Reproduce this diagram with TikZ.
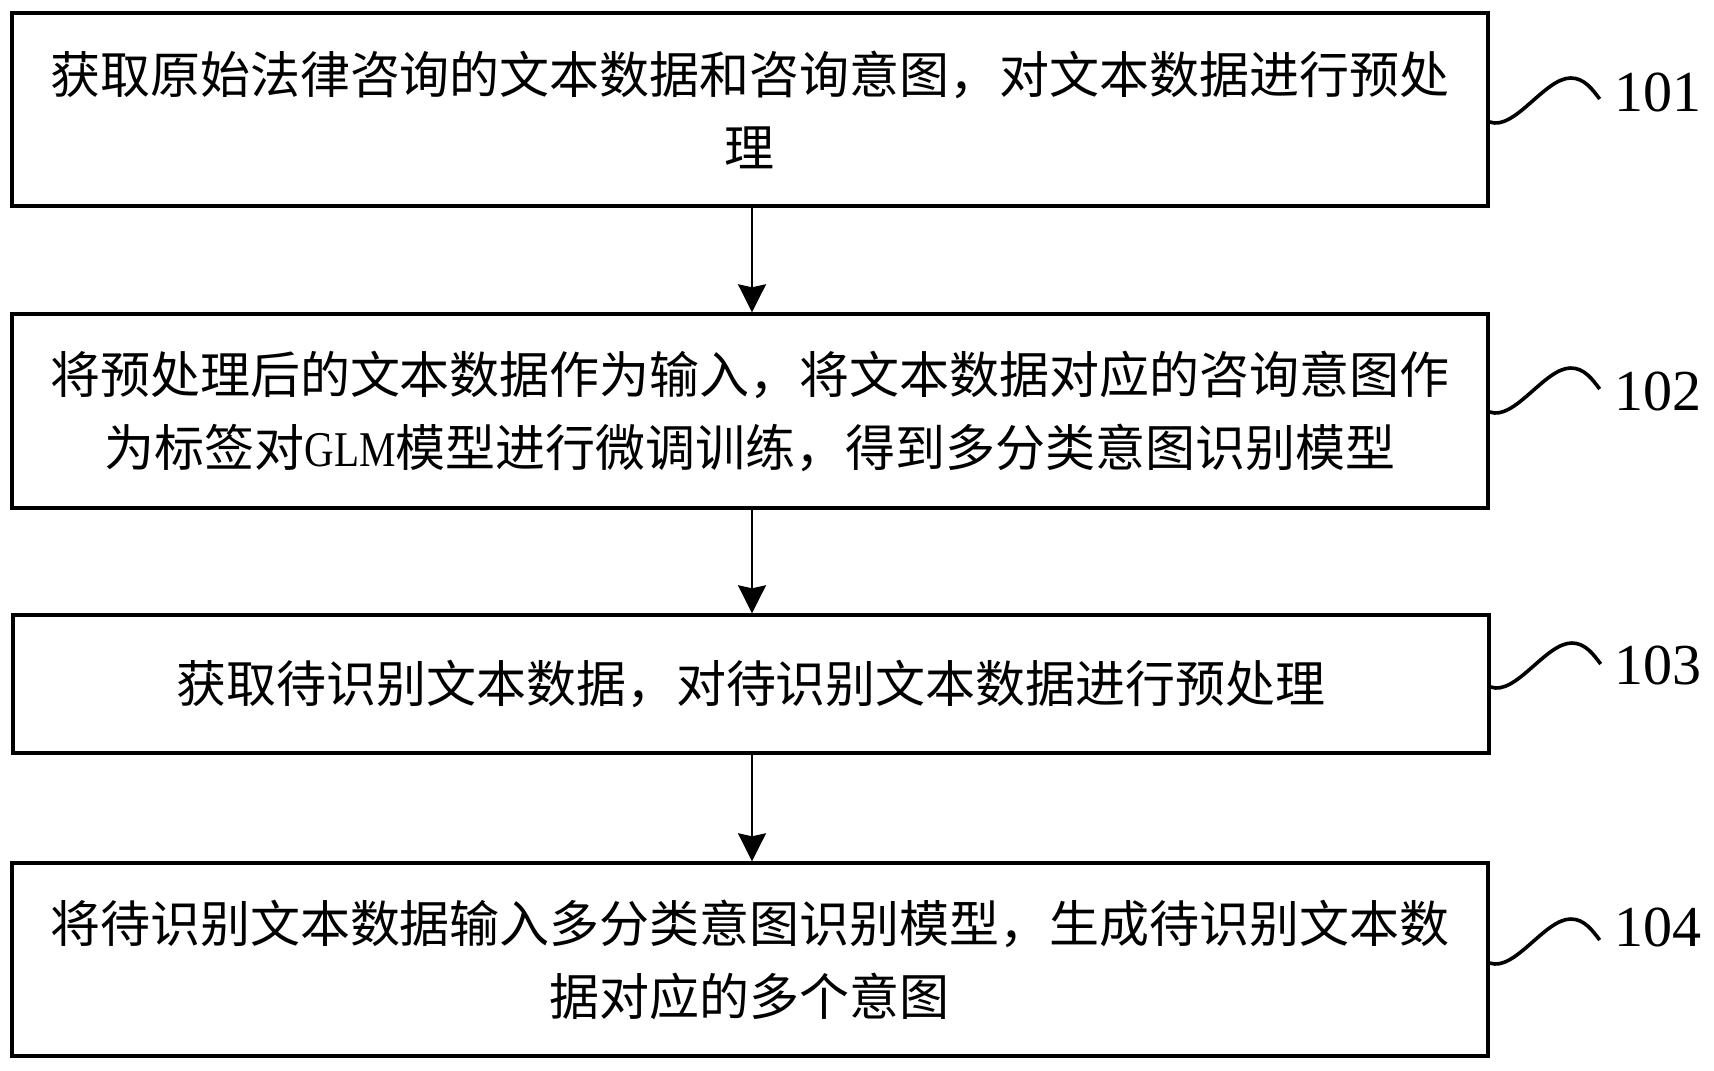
\documentclass[tikz,border=0pt]{standalone}
\usepackage{fontspec}
\setmainfont{Liberation Serif}
\newfontfamily\cjk{Noto Sans CJK SC}
\newfontfamily\latcond{Liberation Serif}[FakeStretch=0.82]
\usetikzlibrary{arrows.meta,calc}
\tikzset{
  stepbox/.style={draw=black, line width=1.7pt, rectangle, inner sep=0pt,
    minimum width=738pt, align=center,
    font=\cjk\fontsize{25pt}{36.5pt}\selectfont},
  flow/.style={draw=black, line width=1pt, -{Stealth[length=14pt,width=14pt,inset=1.5pt]}},
  squig/.style={draw=black, line width=1.8pt},
  reflabel/.style={anchor=west, inner sep=0pt, font=\fontsize{29pt}{32pt}\selectfont}
}
\begin{document}
\begin{tikzpicture}[x=0.5pt,y=-0.5pt]
\useasboundingbox[fill=white] (0,0) rectangle (1714,1071);
% boxes
\node[stepbox, minimum height=96.5pt] (b1) at (750,109.5)
  {获取原始法律咨询的文本数据和咨询意图，对文本数据进行预处\\理};
\node[stepbox, minimum height=97pt] (b2) at (750,411)
  {将预处理后的文本数据作为输入，将文本数据对应的咨询意图作\\为标签对{\latcond GLM}模型进行微调训练，得到多分类意图识别模型};
\node[stepbox, minimum height=69pt] (b3) at (751,684)
  {获取待识别文本数据，对待识别文本数据进行预处理};
\node[stepbox, minimum height=96.5pt] (b4) at (750,959.5)
  {将待识别文本数据输入多分类意图识别模型，生成待识别文本数\\据对应的多个意图};
% arrows
\draw[flow] ([xshift=1pt]b1.south) -- ([xshift=1pt]b2.north);
\draw[flow] ([xshift=1pt]b2.south) -- ([xshift=0.5pt]b3.north);
\draw[flow] ([xshift=0.5pt]b3.south) -- ([xshift=1pt]b4.north);
% squiggle start points
\coordinate (s1) at ([yshift=-6.25pt]b1.east);
\coordinate (s2) at ([yshift=-0.5pt]b2.east);
\coordinate (s3) at ([yshift=-1.5pt]b3.east);
\coordinate (s4) at ([yshift=-1.75pt]b4.east);
% labels
\node[reflabel] (l1) at (1614,92) {101};
\node[reflabel] (l2) at (1614,391.5) {102};
\node[reflabel] (l3) at (1614,665) {103};
\node[reflabel] (l4) at (1614,927) {104};
% squiggles
\foreach \s in {s1,s2,s3,s4}{
  \draw[squig] (\s) .. controls ($(\s)+(25,9)$) and ($(\s)+(55,-44)$) .. ($(\s)+(81,-44)$)
     .. controls ($(\s)+(95,-44)$) and ($(\s)+(103,-32)$) .. ($(\s)+(110,-23)$);
}
\end{tikzpicture}
\end{document}
